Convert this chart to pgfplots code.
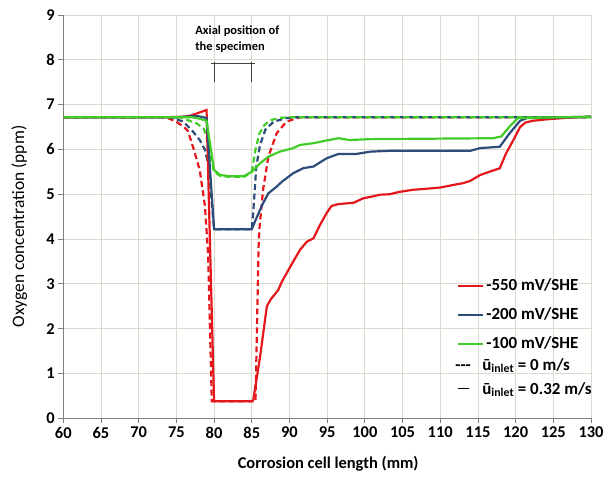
\documentclass[border=0pt]{standalone}
\usepackage{pgfplots}
\pgfplotsset{compat=1.18}
\usepackage{fontspec}
\setmainfont{Carlito}
\definecolor{cred}{RGB}{228,24,28}
\definecolor{cblue}{RGB}{44,76,122}
\definecolor{cgreen}{RGB}{66,204,40}
\definecolor{cgrid}{RGB}{220,218,206}
\begin{document}
\begin{tikzpicture}
\begin{axis}[
  at={(0,0)}, anchor=south west,
  scale only axis, width=527.7bp, height=403.3bp,
  xmin=60, xmax=130, ymin=0, ymax=9,
  xtick={60,65,...,130}, ytick={0,1,...,9},
  grid=major, major grid style={cgrid, line width=0.8bp},
  axis lines=left, axis line style={-, gray, line width=0.8bp},
  tick align=outside, major tick length=5bp, tick style={gray, line width=0.8bp},
  /pgf/number format/assume math mode=true,
  ticklabel style={font=\bfseries\fontsize{16.5}{18}\selectfont},
  xlabel={Corrosion cell length (mm)},
  ylabel={Oxygen concentration (ppm)},
  xlabel style={font=\bfseries\fontsize{16.5}{18}\selectfont, at={(axis description cs:0.502,-0.114)}, anchor=center},
  ylabel style={font=\fontsize{17.5}{19}\selectfont, at={(axis description cs:-0.0834,0.4756)}, anchor=center},
  legend style={draw=none, fill=none, at={(0.746,0.353)}, anchor=north west, inner sep=0pt, row sep=9bp,
    font=\bfseries\fontsize{17}{19}\selectfont, cells={anchor=west},
    nodes={text height=12bp, text depth=4bp}},
  legend cell align=left,
  every axis plot/.append style={line width=2.2bp},
]
% -550 mV/SHE, u = 0 (dashed)
\addplot[cred, dash pattern=on 6bp off 3.5bp, forget plot] coordinates {
(60,6.72)(73,6.72)(74,6.69)(75,6.62)(76,6.5)(76.5,6.42)(77.2,6.06)(78.1,5.54)(78.8,4.72)(79.2,3.68)(79.7,0.38)(85.5,0.38)(85.9,3.8)(86.0,4.2)(86.5,5.1)(87.2,5.84)(88.3,6.36)(89.6,6.62)(91.4,6.72)(130,6.72)};
% -200 mV/SHE, u = 0 (dashed)
\addplot[cblue, dash pattern=on 6bp off 3.5bp, forget plot] coordinates {
(60,6.72)(74,6.72)(74.6,6.70)(75.9,6.62)(77,6.44)(78.1,6.21)(78.8,5.99)(79.3,5.6)(80,4.22)(85,4.22)(85.2,4.6)(85.6,5.62)(86.1,6.1)(86.8,6.44)(87.9,6.62)(89.6,6.70)(91,6.72)(130,6.72)};
% -100 mV/SHE, u = 0 (dashed)
\addplot[cgreen, dash pattern=on 6bp off 3.5bp, forget plot] coordinates {
(60,6.72)(75.5,6.72)(76.4,6.66)(77.7,6.58)(78.6,6.47)(79,6.29)(80,5.5)(80.8,5.41)(82,5.39)(84,5.39)(85,5.5)(85.5,6.0)(86,6.35)(86.7,6.55)(87.5,6.65)(88.5,6.70)(90,6.72)(130,6.72)};
% -550 mV/SHE, u = 0.32
\addplot[cred, forget plot] coordinates {
(60,6.72)(74,6.72)(76,6.73)(77,6.76)(78,6.82)(79,6.88)(80,0.38)(85,0.38)(85.2,0.41)(86.1,1.37)(87,2.5)(87.5,2.65)(88.5,2.86)(89,3.05)(90.1,3.38)(91.4,3.76)(92.3,3.94)(93.2,4.02)(94,4.3)(95,4.6)(95.6,4.74)(96.5,4.78)(98.5,4.81)(99.8,4.91)(101,4.95)(102,4.99)(103.3,5.0)(104.5,5.05)(106.4,5.1)(108,5.12)(110,5.15)(111.5,5.2)(113.1,5.25)(114,5.3)(115.3,5.43)(116.5,5.5)(117.9,5.58)(118.7,5.9)(119.7,6.21)(120.6,6.5)(121.3,6.6)(122.3,6.64)(124,6.67)(126.3,6.70)(128,6.72)(130,6.73)};
% -200 mV/SHE, u = 0.32
\addplot[cblue, forget plot] coordinates {
(60,6.72)(75,6.72)(77,6.74)(78,6.74)(79,6.70)(80,4.22)(85,4.22)(85.6,4.46)(86.5,4.80)(87.2,5.02)(88.3,5.17)(89,5.28)(90.5,5.47)(91.8,5.58)(93.2,5.62)(94.9,5.80)(96.5,5.90)(98.9,5.90)(100.7,5.95)(103.3,5.97)(114,5.97)(115.3,6.03)(117.9,6.06)(119.2,6.36)(120.6,6.64)(121.5,6.70)(130,6.73)};
% -100 mV/SHE, u = 0.32
\addplot[cgreen, forget plot] coordinates {
(60,6.72)(77,6.72)(78,6.69)(79,6.64)(80,5.54)(80.8,5.43)(82.1,5.40)(83.9,5.40)(85,5.5)(86.1,5.69)(87.2,5.84)(88.7,5.95)(90.5,6.03)(91.4,6.1)(93.2,6.14)(94.9,6.20)(96.5,6.25)(98,6.21)(100.7,6.23)(117,6.25)(118.1,6.29)(119.2,6.51)(120.3,6.70)(130,6.73)};
% specimen bracket
\addplot[black!75, line width=0.9bp, forget plot] coordinates {(79.6,7.92)(85.4,7.92)};
\addplot[black!75, line width=0.9bp, forget plot] coordinates {(80,7.96)(80,7.5)};
\addplot[black!75, line width=0.9bp, forget plot] coordinates {(85,7.96)(85,7.5)};
\node[anchor=west, font=\bfseries\fontsize{12.5}{14}\selectfont, inner sep=0pt] at (axis cs:77.5,8.63) {Axial position of};
\node[anchor=west, font=\bfseries\fontsize{12.5}{14}\selectfont, inner sep=0pt] at (axis cs:77.5,8.29) {the specimen};
% legend
\addlegendimage{legend image code/.code={\draw[cred, line width=2.2bp] (0bp,0bp) -- (25bp,0bp);}}
\addlegendentry{-550 mV/SHE}
\addlegendimage{legend image code/.code={\draw[cblue, line width=2.2bp] (0bp,0bp) -- (25bp,0bp);}}
\addlegendentry{-200 mV/SHE}
\addlegendimage{legend image code/.code={\draw[cgreen, line width=2.2bp] (0bp,0bp) -- (25bp,0bp);}}
\addlegendentry{-100 mV/SHE}
\addlegendimage{legend image code/.code={}}
\addlegendentry{\raisebox{7bp}[0pt][0pt]{\hspace*{-31bp}\makebox[27bp][l]{-{}-{}-}ū\textsubscript{inlet} = 0 m/s}}
\addlegendimage{legend image code/.code={}}
\addlegendentry{\raisebox{12bp}[0pt][0pt]{\hspace*{-31bp}\makebox[27bp][l]{\hspace*{3bp}\rule[0.3em]{11bp}{1.3bp}}ū\textsubscript{inlet} = 0.32 m/s}}
\end{axis}
\pgfresetboundingbox
\path (-63.3bp,-60.7bp) rectangle (544.7bp,418.3bp);
\end{tikzpicture}
\end{document}
